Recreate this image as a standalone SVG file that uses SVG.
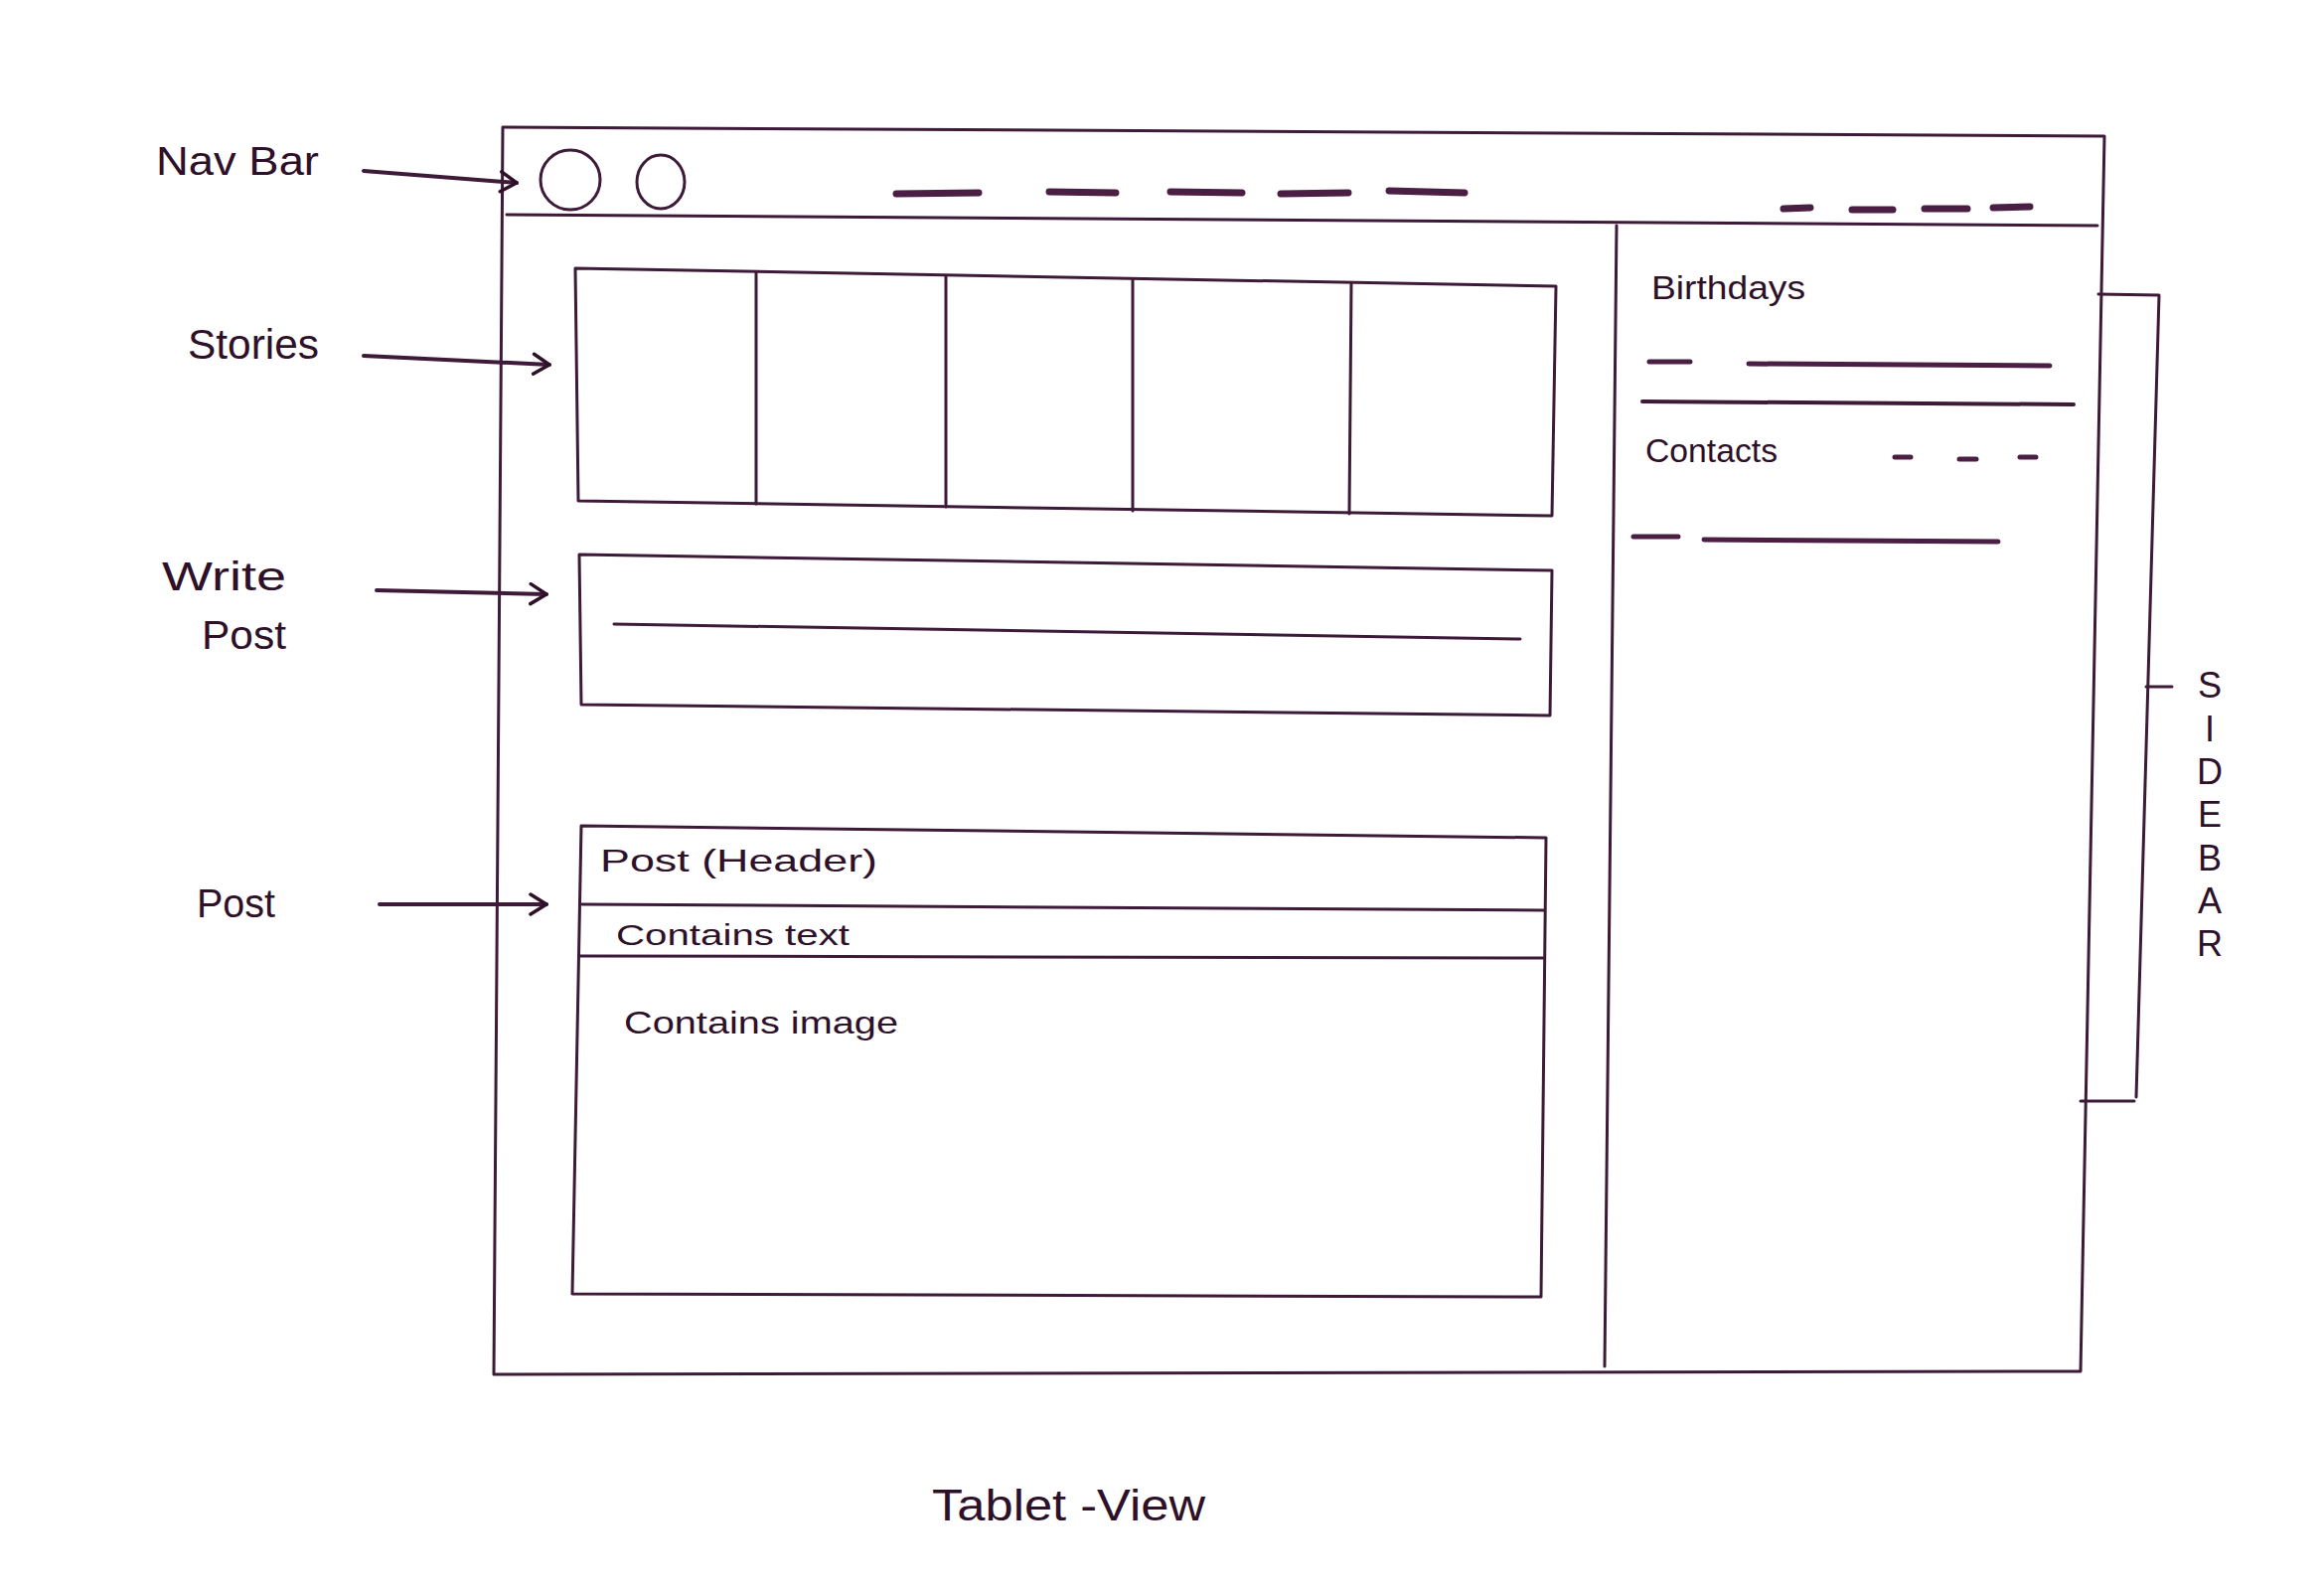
<svg xmlns="http://www.w3.org/2000/svg" width="2339" height="1601" viewBox="0 0 2339 1601">
  <defs>
    <style>
      .ink { fill: none; stroke: #3d1a38; stroke-width: 3; stroke-linecap: round; stroke-linejoin: round; }
      .bold { fill: none; stroke: #3d1a38; stroke-width: 4; stroke-linecap: round; }
      .dash { fill: none; stroke: #4a1f43; stroke-width: 7; stroke-linecap: round; }
      .label { font-family: "Liberation Sans", "DejaVu Sans", sans-serif; fill: #2e1029; }
    </style>
    <marker id="chevron" viewBox="0 0 20 24" refX="18" refY="12" markerWidth="20" markerHeight="24" markerUnits="userSpaceOnUse" orient="auto">
      <path d="M2,2 L18,12 L2,22" fill="none" stroke="#2e1029" stroke-width="3.5" stroke-linecap="round" stroke-linejoin="round"/>
    </marker>
  </defs>
  <rect width="2339" height="1601" fill="#ffffff"/>

  <!-- browser window frame -->
  <g id="window">
    <path class="ink" d="M506,128 L2118,137 M506,128 L497,1383 M497,1383 L2094,1380 M2118,137 L2094,1380"/>
  </g>

  <!-- top navigation bar -->
  <g id="navbar">
    <path class="ink" d="M510,216 L2111,227"/>
    <ellipse class="ink" cx="574" cy="181" rx="30" ry="30"/>
    <ellipse class="ink" cx="665" cy="183" rx="24" ry="27"/>
    <path class="dash" d="M902,195 L985,194 M1056,193 L1123,194 M1178,193 L1250,194 M1289,195 L1357,194 M1398,192 L1474,194"/>
    <path class="dash" d="M1795,210 L1822,209 M1864,211 L1905,211 M1937,210 L1980,210 M2006,209 L2043,208"/>
  </g>

  <!-- stories strip -->
  <g id="stories">
    <path class="ink" d="M579,270 L1566,288 L1562,519 L582,504 Z"/>
    <path class="ink" d="M761,274 L761,507 M952,278 L952,510 M1140,281 L1140,514 M1360,285 L1358,517"/>
  </g>

  <!-- write post box -->
  <g id="write-post">
    <path class="ink" d="M583,558 L1562,574 L1560,720 L585,709 Z"/>
    <path class="ink" d="M618,628 L1530,643"/>
  </g>

  <!-- post card -->
  <g id="post">
    <path class="ink" d="M585,831 L1556,843 L1551,1305 L576,1302 Z"/>
    <path class="ink" d="M586,910 L1554,916 M583,962 L1554,964"/>
    <text class="label" x="604" y="877" font-size="32" textLength="279" lengthAdjust="spacingAndGlyphs">Post (Header)</text>
    <text class="label" x="620" y="951" font-size="30" textLength="235" lengthAdjust="spacingAndGlyphs">Contains text</text>
    <text class="label" x="628" y="1040" font-size="32" textLength="276" lengthAdjust="spacingAndGlyphs">Contains image</text>
  </g>

  <!-- right sidebar -->
  <g id="sidebar">
    <path class="ink" d="M1627,227 L1615,1375"/>
    <text class="label" x="1662" y="301" font-size="34" textLength="155" lengthAdjust="spacingAndGlyphs">Birthdays</text>
    <path class="dash" style="stroke-width:5" d="M1660,364 L1701,364 M1760,366 L2063,368"/>
    <path class="ink" style="stroke-width:4" d="M1653,404 L2087,407"/>
    <text class="label" x="1656" y="465" font-size="34" textLength="133" lengthAdjust="spacingAndGlyphs">Contacts</text>
    <path class="dash" style="stroke-width:5" d="M1907,460 L1923,460 M1972,462 L1989,462 M2033,460 L2049,460"/>
    <path class="dash" style="stroke-width:5" d="M1644,540 L1689,540 M1715,543 L2011,545"/>
  </g>

  <!-- sidebar bracket and vertical caption -->
  <g id="sidebar-bracket">
    <path class="ink" d="M2112,296 L2173,297 L2150,1104 M2094,1108 L2148,1108 M2160,691 L2186,691"/>
    <g class="label" font-size="36" text-anchor="middle">
      <text x="2224" y="702">S</text>
      <text x="2224" y="746">I</text>
      <text x="2224" y="789">D</text>
      <text x="2224" y="832">E</text>
      <text x="2224" y="876">B</text>
      <text x="2224" y="919">A</text>
      <text x="2224" y="962">R</text>
    </g>
  </g>

  <!-- left annotations -->
  <g id="annotations" class="label">
    <text x="157" y="176" font-size="40" textLength="164" lengthAdjust="spacingAndGlyphs">Nav Bar</text>
    <text x="189" y="361" font-size="42" textLength="132" lengthAdjust="spacingAndGlyphs">Stories</text>
    <text x="163" y="594" font-size="40" textLength="125" lengthAdjust="spacingAndGlyphs">Write</text>
    <text x="203" y="653" font-size="40" textLength="85" lengthAdjust="spacingAndGlyphs">Post</text>
    <text x="198" y="923" font-size="40" textLength="79" lengthAdjust="spacingAndGlyphs">Post</text>
  </g>

  <!-- annotation arrows -->
  <g id="connectors">
    <path class="bold" marker-end="url(#chevron)" d="M366,172 L520,184"/>
    <path class="bold" marker-end="url(#chevron)" d="M366,358 L553,367"/>
    <path class="bold" marker-end="url(#chevron)" d="M379,594 L550,598"/>
    <path class="bold" marker-end="url(#chevron)" d="M382,910 L550,910"/>
  </g>

  <!-- page caption -->
  <text id="caption" class="label" x="938" y="1530" font-size="44" textLength="275" lengthAdjust="spacingAndGlyphs">Tablet -View</text>
</svg>
